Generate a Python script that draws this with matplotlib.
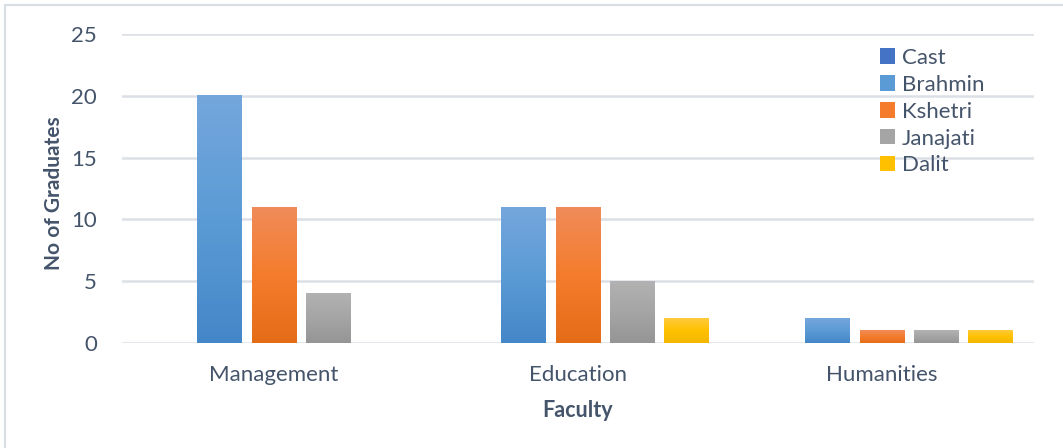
import numpy as np
import matplotlib
matplotlib.use("Agg")
import matplotlib.pyplot as plt
from matplotlib.colors import LinearSegmentedColormap
from matplotlib.patches import Patch
from matplotlib.lines import Line2D

# Data
faculties = ["Management", "Education", "Humanities"]
castes = ["Cast", "Brahmin", "Kshetri", "Janajati", "Dalit"]
cast = [0, 0, 0]
brahmin = [20, 11, 2]
kshetri = [11, 11, 1]
janajati = [4, 5, 1]
dalit = [0, 2, 1]
yticks = [0, 5, 10, 15, 20, 25]

series = [cast, brahmin, kshetri, janajati, dalit]

# Vertical gradients (top, middle, bottom) for each series
gradients = [
    ["#5B85D2", "#4472C4", "#3662B8"],
    ["#74A7DC", "#5B9BD5", "#4487C8"],
    ["#F08C5A", "#F47C2C", "#E56C17"],
    ["#B2B2B2", "#A5A5A5", "#959595"],
    ["#FFCB3C", "#FFC000", "#F2B800"],
]

text_color = "#44546A"
grid_color = "#DCE0E6"
plt.rcParams["font.family"] = ["Lato", "DejaVu Sans"]

W, H = 1063, 448
fig = plt.figure(figsize=(W / 100, H / 100), dpi=100)
ax_left, ax_right, ax_top, ax_bottom = 122, 1034, 34, 343
ax = fig.add_axes([ax_left / W, 1 - ax_bottom / H,
                   (ax_right - ax_left) / W, (ax_bottom - ax_top) / H])

x = np.arange(len(faculties))
pitch = 0.178
width = 0.148

for i, (vals, stops) in enumerate(zip(series, gradients)):
    cmap = LinearSegmentedColormap.from_list(castes[i], stops[::-1])
    bars = ax.bar(x + (i - 2) * pitch, vals, width, color="none",
                  edgecolor="none", zorder=3)
    grad = np.linspace(0, 1, 256).reshape(-1, 1)
    for b in bars:
        h = b.get_height()
        if h <= 0:
            continue
        x0 = b.get_x()
        ax.imshow(grad, cmap=cmap, origin="lower", aspect="auto",
                  extent=[x0, x0 + b.get_width(), 0, h], zorder=3,
                  interpolation="bilinear")

ax.set_xlim(-0.5, len(faculties) - 0.5)
ax.set_ylim(0, 25)
ax.set_yticks(yticks)
ax.set_xticks(x)
ax.set_xticklabels(faculties)
ax.yaxis.grid(True, color=grid_color, linewidth=1.8, zorder=0)
ax.set_axisbelow(True)
for s in ax.spines.values():
    s.set_visible(False)
ax.tick_params(axis="both", length=0, labelsize=16, labelcolor=text_color)
ax.tick_params(axis="y", pad=18)
ax.tick_params(axis="x", pad=16)

fig.text(54 / W, 1 - 193 / H, "No of Graduates", rotation=90, ha="center",
         va="center", fontsize=15, fontweight="bold", color=text_color)
fig.text(578 / W, 1 - 410 / H, "Faculty", ha="center", va="center",
         fontsize=15.5, fontweight="bold", color=text_color)

handles = [Patch(facecolor=g[1], edgecolor="none") for g in gradients]
fig.legend(handles, castes, loc="upper left",
           bbox_to_anchor=(871 / W, 1 - 39 / H), frameon=False,
           fontsize=16, labelcolor=text_color, handlelength=0.68,
           handleheight=0.68, handletextpad=0.3, labelspacing=0.31,
           borderaxespad=0)

# Chart-area border
fig.add_artist(Line2D([5 / W, 1], [1 - 5 / H, 1 - 5 / H],
                      transform=fig.transFigure, color="#D9DEE5", lw=1.5))
fig.add_artist(Line2D([5 / W, 5 / W], [0, 1 - 5 / H],
                      transform=fig.transFigure, color="#D9DEE5", lw=1.5))

fig.savefig("out.png", dpi=100, facecolor="white")
